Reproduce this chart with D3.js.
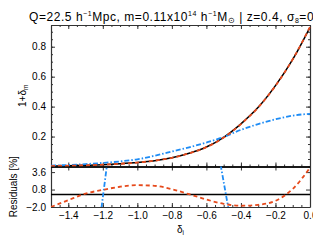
<!DOCTYPE html>
<html>
<head>
<meta charset="utf-8">
<script src="https://cdn.jsdelivr.net/npm/d3@7"></script>
<style>
body { margin: 0; background: #fff; }
text { font-family: "Liberation Sans", Arial, sans-serif; fill: #000; }
</style>
</head>
<body>
<div id="chart"></div>
<script>
// valeurs
var deltaI     = [-1.5, -1.4, -1.3, -1.2, -1.1, -1.0, -0.9, -0.8, -0.7, -0.6, -0.5, -0.4, -0.3, -0.2, -0.1, 0.0];
var deltaModel = [0.003, 0.005, 0.008, 0.012, 0.018, 0.026, 0.038, 0.058, 0.088, 0.13, 0.195, 0.285, 0.395, 0.54, 0.715, 0.93];
var deltaFit   = [0.003, 0.005, 0.008, 0.012, 0.018, 0.026, 0.039, 0.058, 0.088, 0.129, 0.193, 0.283, 0.394, 0.539, 0.716, 0.932];
var deltaAlt   = [0.006, 0.010, 0.016, 0.024, 0.034, 0.048, 0.072, 0.100, 0.128, 0.160, 0.197, 0.245, 0.283, 0.315, 0.340, 0.352];

var residFit   = [-2.0, -0.9, 0.15, 0.75, 1.25, 1.5, 1.4, 0.85, 0.05, -0.8, -1.5, -1.8, -1.65, -1.0, 0.9, 4.3];
var residAltX  = [-1.5, -1.3, -1.23, -1.207, -1.177, -1.15, -1.0, -0.7, -0.55, -0.516, -0.474, -0.44, -0.3, 0.0];
var residAlt   = [-40, -15, -6, -2.0, 4.5, 9, 60, 40, 9, 4.5, -2.0, -6, -20, -30];

var xTicks     = [-1.4, -1.2, -1.0, -0.8, -0.6, -0.4, -0.2, 0.0];
var yTicksTop  = [0.2, 0.4, 0.6, 0.8];
var yTicksRes  = [-2.0, 0.8, 3.6];

var width = 313, height = 248;
var plotL = 51, plotR = 310, plotT = 25, plotM = 166.5, plotB = 207;

var svg = d3.select("#chart").append("svg")
    .attr("width", width)
    .attr("height", height);

var x = d3.scaleLinear().domain([-1.5, 0.0]).range([plotL, plotR]);
var yTop = d3.scaleLinear().domain([0.0, 0.945]).range([plotM, plotT]);
var yRes = d3.scaleLinear().domain([-2.0, 4.5]).range([plotB, plotM]);

var minorX = d3.range(-1.5, 0.001, 0.05).map(function(d) { return +d.toFixed(2); });
var minorTop = d3.range(0, 0.95, 0.05).map(function(d) { return +d.toFixed(2); });

var fmt = d3.format(".1f");

svg.append("clipPath").attr("id", "clipTop").append("rect")
    .attr("x", plotL).attr("y", plotT - 3).attr("width", plotR - plotL + 3).attr("height", plotM - plotT + 3);
svg.append("clipPath").attr("id", "clipRes").append("rect")
    .attr("x", plotL).attr("y", plotM).attr("width", plotR - plotL).attr("height", plotB - plotM);

// un axe = ticks mineurs + ticks majeurs, tournés vers l'intérieur
function drawAxis(make, scale, transform, major, minor, labels) {
    if (minor) {
        var m = svg.append("g").attr("transform", transform)
            .call(make(scale).tickValues(minor).tickSize(-2).tickFormat(""));
        m.select(".domain").remove();
        m.selectAll(".tick line").attr("stroke", "#333");
    }
    var g = svg.append("g").attr("transform", transform)
        .call(make(scale).tickValues(major).tickSizeInner(-4).tickSizeOuter(0)
            .tickPadding(5).tickFormat(labels ? fmt : ""));
    g.select(".domain").attr("stroke", "#333").attr("stroke-width", 1.2);
    g.selectAll(".tick line").attr("stroke", "#333");
    g.selectAll(".tick text").attr("font-size", 10).attr("font-family", "Liberation Sans, Arial, sans-serif");
    return g;
}

// panneau haut
drawAxis(d3.axisBottom, x, "translate(0," + plotM + ")", xTicks, minorX, false);
drawAxis(d3.axisTop, x, "translate(0," + plotT + ")", xTicks, minorX, false);
drawAxis(d3.axisLeft, yTop, "translate(" + plotL + ",0)", yTicksTop, minorTop, true);
drawAxis(d3.axisRight, yTop, "translate(" + plotR + ",0)", yTicksTop, minorTop, false);

// panneau des résidus
drawAxis(d3.axisBottom, x, "translate(0," + plotB + ")", xTicks, minorX, true);
drawAxis(d3.axisTop, x, "translate(0," + plotM + ")", xTicks, null, false);
drawAxis(d3.axisLeft, yRes, "translate(" + plotL + ",0)", yTicksRes, null, true);
drawAxis(d3.axisRight, yRes, "translate(" + plotR + ",0)", yTicksRes, null, false);

// lignes noires du panneau des résidus
svg.append("line")
    .attr("x1", plotL).attr("x2", plotR)
    .attr("y1", plotM + 0.5).attr("y2", plotM + 0.5)
    .attr("stroke", "#000").attr("stroke-width", 1.6);
svg.append("line")
    .attr("x1", plotL).attr("x2", plotR)
    .attr("y1", yRes(0)).attr("y2", yRes(0))
    .attr("stroke", "#000").attr("stroke-width", 1.6);

// courbes du panneau haut
var lineTop = d3.line()
    .x(function(d) { return x(d[0]); })
    .y(function(d) { return yTop(d[1]); })
    .curve(d3.curveMonotoneX);

var gTop = svg.append("g").attr("clip-path", "url(#clipTop)");

gTop.append("path")
    .attr("d", lineTop(d3.zip(deltaI, deltaModel)))
    .attr("fill", "none").attr("stroke", "#000").attr("stroke-width", 1.5);

gTop.append("path")
    .attr("d", lineTop(d3.zip(deltaI, deltaAlt)))
    .attr("fill", "none").attr("stroke", "#1e8cf5").attr("stroke-width", 1.8)
    .attr("stroke-dasharray", "5,2,1.5,2");

gTop.append("path")
    .attr("d", lineTop(d3.zip(deltaI, deltaFit)))
    .attr("fill", "none").attr("stroke", "#e64a1c").attr("stroke-width", 1.8)
    .attr("stroke-dasharray", "4,3");

// courbes des résidus
var gRes = svg.append("g").attr("clip-path", "url(#clipRes)");

gRes.append("path")
    .attr("d", d3.line()
        .x(function(d) { return x(d[0]); })
        .y(function(d) { return yRes(d[1]); })(d3.zip(residAltX, residAlt)))
    .attr("fill", "none").attr("stroke", "#1e8cf5").attr("stroke-width", 1.8)
    .attr("stroke-dasharray", "5,2,1.5,2");

gRes.append("path")
    .attr("d", d3.line()
        .x(function(d) { return x(d[0]); })
        .y(function(d) { return yRes(d[1]); })
        .curve(d3.curveMonotoneX)(d3.zip(deltaI, residFit)))
    .attr("fill", "none").attr("stroke", "#e64a1c").attr("stroke-width", 1.8)
    .attr("stroke-dasharray", "4,3");

// titre (coupé à droite comme dans la figure)
var title = svg.append("text")
    .attr("x", 29).attr("y", 20.5)
    .attr("font-size", 12).attr("letter-spacing", 0.55);
title.append("tspan").text("Q=22.5 h");
title.append("tspan").attr("font-size", 7).attr("dy", -5).text("−1");
title.append("tspan").attr("dy", 5).text("Mpc, m=0.11x10");
title.append("tspan").attr("font-size", 7).attr("dy", -5).text("14");
title.append("tspan").attr("dy", 5).text(" h");
title.append("tspan").attr("font-size", 7).attr("dy", -5).text("−1");
title.append("tspan").attr("dy", 5).text("M");
title.append("tspan").attr("font-size", 7.5).attr("dy", 2).text("⊙");
title.append("tspan").attr("dy", -2).text(" | z=0.4, σ");
title.append("tspan").attr("font-size", 7).attr("dy", 2).text("8");
title.append("tspan").attr("dy", -2).text("=0.8");

// titres des axes
var xl = svg.append("text")
    .attr("x", (plotL + plotR) / 2).attr("y", 233)
    .attr("text-anchor", "middle").attr("font-size", 10);
xl.append("tspan").text("δ");
xl.append("tspan").attr("font-size", 6.5).attr("dy", 2).text("i");

var yl = svg.append("text")
    .attr("transform", "translate(26," + ((plotT + plotM) / 2) + ") rotate(-90)")
    .attr("text-anchor", "middle").attr("font-size", 10);
yl.append("tspan").text("1+δ");
yl.append("tspan").attr("font-size", 6.5).attr("dy", 2).text("m");

svg.append("text")
    .attr("transform", "translate(17," + ((plotM + plotB) / 2) + ") rotate(-90)")
    .attr("text-anchor", "middle").attr("font-size", 10)
    .text("Residuals [%]");
</script>
</body>
</html>
